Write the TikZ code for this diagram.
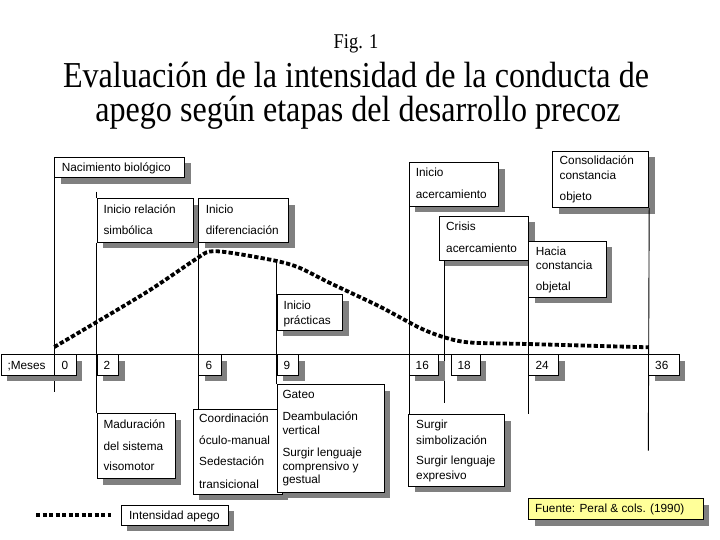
\documentclass[tikz,border=0pt]{standalone}
\usepackage{fontspec}
\setmainfont{Liberation Serif}
\setsansfont{Liberation Sans}
\usetikzlibrary{shadows}
\definecolor{shade}{HTML}{808080}
\definecolor{note}{HTML}{FFFF99}
\tikzset{
  box/.style={draw=black, fill=white, line width=0.9pt, inner sep=0pt, anchor=north west,
    drop shadow={shadow xshift=6pt, shadow yshift=-6pt, fill=shade, opacity=1}},
  txt/.style={anchor=base west, inner sep=0pt, font=\sffamily\fontsize{11.8}{14}\selectfont},
  tick/.style={line width=0.9pt},
  apego/.style={line width=3.8pt, dash pattern=on 4.3pt off 2.2pt},
  ttl/.style={anchor=base, inner sep=0pt, font=\fontsize{36.5}{40}\selectfont},
}
\newcommand\bx[6][]{\node[box,#1,minimum width={(#5-#3)*1pt},minimum height={(#6-#4)*1pt}] (#2) at (#3,#4) {};}
\newcommand\tx[4]{\node[txt] (#1) at (#2,#3) {#4};}
\begin{document}
\begin{tikzpicture}[x=1pt,y=-1pt]
\useasboundingbox (0,0) rectangle (720,540);
\fill[white] (0,0) rectangle (720,540);

% titles
\node[ttl, font=\fontsize{21}{24}\selectfont] (fig) at (356,49) {\scalebox{0.88}[1]{Fig. 1}};
\node[ttl] (t1) at (356,88) {\scalebox{0.88}[1]{Evaluación de la intensidad de la conducta de}};
\node[ttl] (t2) at (358,122) {\scalebox{0.88}[1]{apego según etapas del desarrollo precoz}};

% named free ends
\coordinate (top2) at (96.7,191.7);
\coordinate (c9) at (276.7,260);
\coordinate (e0) at (54.3,392);
\coordinate (e18) at (444.3,402.7);
\coordinate (e24) at (528.3,414.3);
\coordinate (e36) at (648.3,450.7);
\coordinate (top18) at (444.3,260);

% --- boxes (upper part) ---
\bx{nac}{54.3}{156.7}{184.3}{177.3}
\bx{cons}{552.3}{150.7}{648.3}{207.3}
\bx{iace}{409}{162.3}{498.3}{205.7}
\bx{irel}{96.7}{198.3}{192.7}{241.7}
\bx{idif}{198.3}{198.3}{288.3}{241.7}
\bx{cris}{439}{216}{528.3}{260}
\bx{hacia}{528.3}{240.7}{606}{296.7}

% vertical lines
\draw[tick] (nac.south west) -- (e0);
\draw[tick] (top2) -- (irel.north west);
\draw[tick] (irel.south west) -- (96.7,413.3) coordinate (e2);
\draw[tick] (idif.south west) -- (198.3,409) coordinate (e6);
\draw[tick] (c9) -- (276.7,384.3) coordinate (e9);
\draw[tick] (iace.south west) -- (409,414.3) coordinate (e16);
\draw[tick] (top18) -- (e18);
\draw[tick] (hacia.south west) -- (e24);
\draw[tick] (cons.south east) -- (e36);

% attachment curve
\draw[apego] plot[smooth, tension=0.5] coordinates {
  (54.3,347) (96.7,322) (150,290) (196,259) (210,251.5) (232,253)
  (276.7,261) (300,268) (330,283) (380,306.7) (420,328) (445,337.5)
  (470,342.5) (527,344) (600,346) (648,347.3)};

% --- mid boxes ---
\bx{ipra}{276.7}{294.3}{342.3}{330}

% axis
\draw[tick] (1,354.3) coordinate (ax0) -- (648.3,354.3) coordinate (ax1);

% month boxes
\bx{meses}{1}{354.3}{54.3}{375}
\bx{m0}{54.3}{354.3}{76}{375}
\bx{m2}{96.7}{354.3}{118.3}{375}
\bx{m6}{198.3}{354.3}{220.7}{375}
\bx{m9}{276.7}{354.3}{298.3}{375}
\bx{m16}{409}{354.3}{438.3}{375}
\bx{m18}{450.7}{354.3}{480}{375}
\bx{m24}{528.3}{354.3}{558.3}{375}
\bx{m36}{648.3}{354.3}{679}{375}

% lower boxes
\bx{madur}{96.7}{413.3}{175}{478.3}
\bx{coord}{192.7}{409}{281.7}{494}
\bx{gateo}{276.7}{384.3}{384}{491.7}
\bx{surg}{408.3}{414.3}{504.3}{486}
\bx{inten}{120.7}{505}{227.7}{525}
\bx[fill=note]{fuente}{528.3}{498.3}{702.7}{519.3}

% legend line
\coordinate (lg1) at (36,515);
\coordinate (lg2) at (111,515);
\draw[apego] (lg1) -- (lg2);

% texts
\tx{nac-t}{61.7}{171.5}{Nacimiento biológico}
\tx{irel-a}{103.3}{213.3}{Inicio relación}
\tx{irel-b}{103.3}{234.3}{simbólica}
\tx{idif-a}{205.7}{213.3}{Inicio}
\tx{idif-b}{205.7}{234.3}{diferenciación}
\tx{iace-a}{415.7}{176.7}{Inicio}
\tx{iace-b}{415.7}{199}{acercamiento}
\tx{cons-a}{559.5}{165}{Consolidación}
\tx{cons-b}{559.5}{180}{constancia}
\tx{cons-c}{559.5}{201}{objeto}
\tx{cris-a}{446}{230.7}{Crisis}
\tx{cris-b}{446}{252.3}{acercamiento}
\tx{hacia-a}{535.7}{255}{Hacia}
\tx{hacia-b}{535.7}{269}{constancia}
\tx{hacia-c}{535.7}{290.7}{objetal}
\tx{ipra-a}{283.3}{309}{Inicio}
\tx{ipra-b}{283.3}{324}{prácticas}
\tx{meses-t}{7.3}{369}{;Meses}
\tx{m0-t}{61.3}{369}{0}
\tx{m2-t}{103.3}{369}{2}
\tx{m6-t}{205.3}{369}{6}
\tx{m9-t}{283.3}{369}{9}
\tx{m16-t}{415.5}{369}{16}
\tx{m18-t}{457.3}{369}{18}
\tx{m24-t}{535.3}{369}{24}
\tx{m36-t}{655}{369}{36}
\tx{madur-a}{103.3}{428.3}{Maduración}
\tx{madur-b}{103.3}{450}{del sistema}
\tx{madur-c}{103.3}{470.7}{visomotor}
\tx{coord-a}{199}{422.7}{Coordinación}
\tx{coord-b}{199}{444.3}{óculo-manual}
\tx{coord-c}{199}{465}{Sedestación}
\tx{coord-d}{199}{488.3}{transicional}
\tx{gateo-a}{282.3}{398.3}{Gateo}
\tx{gateo-b}{282.3}{420.7}{Deambulación}
\tx{gateo-c}{282.3}{434}{vertical}
\tx{gateo-d}{282.3}{456}{Surgir lenguaje}
\tx{gateo-e}{282.3}{470.5}{comprensivo y}
\tx{gateo-f}{282.3}{483.5}{gestual}
\tx{surg-a}{416}{428.3}{Surgir}
\tx{surg-b}{416}{444}{simbolización}
\tx{surg-c}{416}{464.3}{Surgir lenguaje}
\tx{surg-d}{416}{479.3}{expresivo}
\tx{inten-t}{129}{519.3}{Intensidad apego}
\tx{fuente-t}{535}{512.7}{Fuente: Peral \& cols. (1990)}
\end{tikzpicture}
\end{document}
